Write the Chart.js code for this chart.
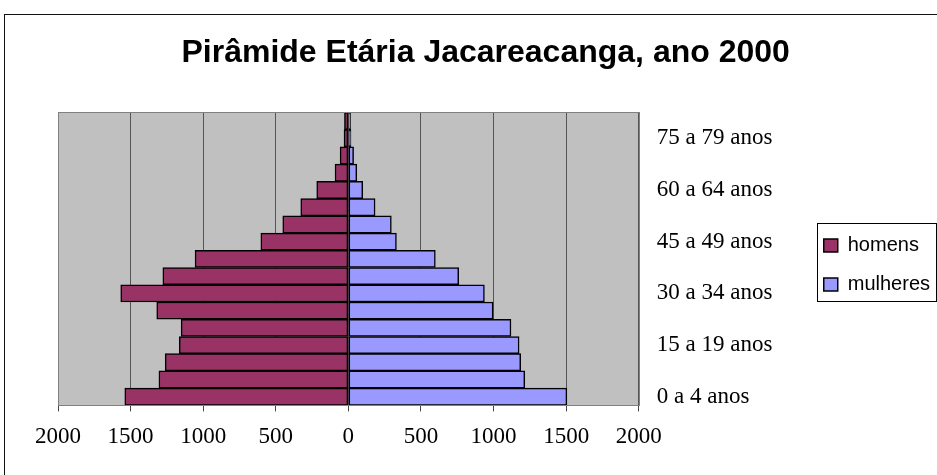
<!DOCTYPE html>
<html>
<head>
<meta charset="utf-8">
<script src="https://cdn.jsdelivr.net/npm/chart.js@4"></script>
<style>
  body { margin: 0; overflow: hidden; background: #fff; }
  #wrap { position: relative; width: 937px; height: 475px; overflow: hidden; }
  #myChart { position: absolute; left: 0; top: 0; }
  #frame { position: absolute; left: 4px; top: 14px; width: 2000px; height: 2000px; border: 1px solid #111; pointer-events: none; }
</style>
</head>
<body>
<div id="wrap">
  <canvas id="myChart" width="972" height="475"></canvas>
  <div id="frame"></div>
</div>
<script>
const ageGroups = ['0 a 4 anos', '5 a 9 anos', '10 a 14 anos', '15 a 19 anos', '20 a 24 anos', '25 a 29 anos',
  '30 a 34 anos', '35 a 39 anos', '40 a 44 anos', '45 a 49 anos', '50 a 54 anos', '55 a 59 anos',
  '60 a 64 anos', '65 a 69 anos', '70 a 74 anos', '75 a 79 anos', '80 anos e mais'];
const homens = [1540, 1305, 1262, 1165, 1152, 1320, 1568, 1278, 1056, 603, 452, 328, 218, 92, 57, 30, 27];
const mulheres = [1505, 1215, 1187, 1176, 1120, 997, 937, 760, 599, 331, 296, 184, 99, 58, 36, 18, 15];
const xTicks = [-2000, -1500, -1000, -500, 0, 500, 1000, 1500, 2000];

const serif = "'Liberation Serif', 'Times New Roman', serif";
const sans = "'Liberation Sans', Arial, sans-serif";

// grey plot background + thin frame, and the box around the legend
const plotArea = {
  id: 'plotArea',
  beforeDraw(chart) {
    const {ctx, chartArea: a} = chart;
    ctx.save();
    ctx.fillStyle = '#c0c0c0';
    ctx.fillRect(a.left, a.top, a.right - a.left, a.bottom - a.top);
    ctx.restore();
  },
  afterDatasetsDraw(chart) {
    const {ctx, chartArea: a} = chart;
    ctx.save();
    ctx.strokeStyle = '#808080';
    ctx.lineWidth = 1;
    ctx.strokeRect(Math.round(a.left) + 0.5, Math.round(a.top) + 0.5,
      Math.round(a.right - a.left), Math.round(a.bottom - a.top));
    ctx.restore();
  },
  afterDraw(chart) {
    const hb = chart.legend.legendHitBoxes;
    if (!hb || !hb.length) return;
    const ctx = chart.ctx;
    const left = Math.round(hb[0].left) - 7;
    const top = Math.round(hb[0].top) - 12;
    const bottom = Math.round(hb[hb.length - 1].top + hb[hb.length - 1].height) + 7;
    ctx.save();
    ctx.strokeStyle = '#000';
    ctx.lineWidth = 1;
    ctx.strokeRect(left + 0.5, top + 0.5, 936 - left, bottom - top);
    ctx.restore();
  }
};

const chart1 = document.getElementById('myChart').getContext('2d');

const myChart = new Chart(chart1, {
  type: 'bar',
  data: {
    labels: ageGroups,
    datasets: [{
      label: 'homens',
      data: homens.map(v => -v),
      backgroundColor: '#993366',
      borderColor: '#000',
      borderWidth: 1.5,
      borderSkipped: false,
      barPercentage: 1,
      categoryPercentage: 1
    }, {
      label: 'mulheres',
      data: mulheres,
      backgroundColor: '#9999ff',
      borderColor: '#000',
      borderWidth: 1.5,
      borderSkipped: false,
      barPercentage: 1,
      categoryPercentage: 1
    }]
  },
  options: {
    indexAxis: 'y',
    responsive: false,
    animation: false,
    layout: {
      padding: { left: 58, right: 32, top: 0, bottom: 12 }
    },
    plugins: {
      title: {
        display: true,
        // trailing spaces pull the centred title a bit to the left, like the original
        text: 'Pirâmide Etária Jacareacanga, ano 2000   ',
        color: '#000',
        font: { family: sans, size: 32, weight: 'bold' },
        padding: { top: 34, bottom: 40 }
      },
      legend: {
        position: 'right',
        fullSize: false,
        // empty title only nudges the items down a little
        title: { display: true, text: ' ', font: { size: 10 } },
        labels: {
          color: '#000',
          font: { family: sans, size: 20 },
          boxWidth: 14,
          boxHeight: 13,
          padding: 19
        }
      },
      tooltip: { enabled: false }
    },
    scales: {
      x: {
        stacked: true,
        min: -2000,
        max: 2000,
        afterBuildTicks(scale) {
          scale.ticks = xTicks.map(v => ({ value: v }));
        },
        grid: {
          color: '#555',
          tickColor: '#444',
          tickLength: 6
        },
        border: { color: '#555' },
        ticks: {
          color: '#000',
          font: { family: serif, size: 23 },
          padding: 12,
          maxRotation: 0,
          callback: v => Math.abs(v)
        }
      },
      y: {
        stacked: true,
        position: 'right',
        reverse: true,
        grid: { display: false },
        border: { display: false },
        afterFit(scale) {
          scale.width = 166;
        },
        ticks: {
          color: '#000',
          font: { family: serif, size: 23 },
          padding: 10,
          autoSkip: false,
          callback: function (value, index) {
            return index % 3 === 0 ? this.getLabelForValue(value) : '';
          }
        }
      }
    }
  },
  plugins: [plotArea]
});
</script>
</body>
</html>
